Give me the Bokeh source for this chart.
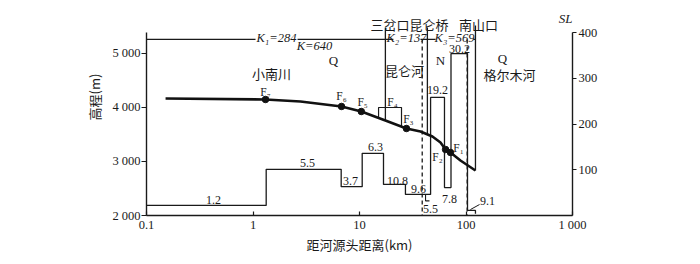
import math
from bokeh.plotting import figure
from bokeh.models import Range1d, LinearAxis, FixedTicker, Title
from bokeh.embed import file_html
from bokeh.resources import INLINE
from bokeh.core.properties import value

# ---------------- data ----------------
# longitudinal profile: distance from source (km) and elevation (m)
profile_km = [0.151, 1.31, 2.79, 6.78, 10.4, 17.5, 27.6, 37.4, 48.4, 57.6, 64.3, 71.5, 88.7, 122.7]
profile_m = [4167, 4148, 4111, 4019, 3926, 3759, 3611, 3556, 3463, 3352, 3222, 3167, 3019, 2833]

# faults on the profile
fault_names = ["F₇", "F₆", "F₅", "F₃", "F₂", "F₁"]
fault_km = [1.31, 6.78, 10.4, 27.6, 64.3, 71.5]
fault_m = [4148, 4019, 3926, 3611, 3222, 3167]

# SL index (stream-length gradient), stepwise
sl_edges_km = [0.1, 1.33, 6.73, 10.6, 16.8, 27.0, 46.5, 62.8, 72.3, 103.3, 122.7]
sl_values = [22, 101, 63, 136, 68, 46, 258, 61, 354, 11]
sl_labels = ["1.2", "5.5", "3.7", "6.3", "10.8", "9.6", "19.2", "7.8", "30.2", "9.1"]

# section boundaries (km)
sanchakou_km = 17.5
kunlunqiao_km = 43.4
nanshankou_km = 122.7
dashed_km = [38.8, 102.6]

# K (steepness) values
k_names = ["K₁=284", "K=640", "K₂=137", "K₃=569"]

x_ticks = [0.1, 1, 10, 100, 1000]
x_tick_labels = ["0.1", "1", "10", "100", "1 000"]
y_ticks = [2000, 3000, 4000, 5000]
y_tick_labels = ["2 000", "3 000", "4 000", "5 000"]
sl_ticks = [100, 200, 300, 400]

SERIF = "Liberation Serif"
CJK = "Noto Sans CJK SC"
INK = "#1a1a1a"

p = figure(width=700, height=264, x_axis_type="log",
           x_range=Range1d(0.1, 1000), y_range=Range1d(2000, 5796),
           output_backend="svg", toolbar_location=None,
           min_border_left=146, min_border_right=128,
           min_border_top=10, min_border_bottom=49)
p.extra_y_ranges = {"sl": Range1d(0, 448.1)}
p.outline_line_color = None
p.xgrid.visible = False
p.ygrid.visible = False
p.background_fill_color = "white"

# axes
xa = p.xaxis[0]
xa.ticker = FixedTicker(ticks=x_ticks)
xa.major_label_overrides = {t: l for t, l in zip(x_ticks, x_tick_labels)}
xa.minor_tick_line_color = None
xa.major_tick_in = 4
xa.major_tick_out = 0
xa.major_label_standoff = 2
xa.axis_label = "距河源头距离(km)"
xa.axis_label_standoff = 0
xa.axis_label_text_font = CJK
xa.axis_label_text_font_style = "normal"
xa.axis_label_text_font_size = "13px"
xa.axis_label_text_color = INK

ya = p.yaxis[0]
ya.ticker = FixedTicker(ticks=y_ticks)
ya.major_label_overrides = {t: l for t, l in zip(y_ticks, y_tick_labels)}
ya.minor_tick_line_color = None
ya.major_tick_in = 0
ya.major_tick_out = 5
ya.major_label_standoff = 1
ya.bounds = (2000, 5389)

ra = LinearAxis(y_range_name="sl", ticker=FixedTicker(ticks=sl_ticks), bounds=(0, 400))
ra.minor_tick_line_color = None
ra.major_tick_in = 0
ra.major_tick_out = 4
ra.major_label_standoff = 2
p.add_layout(ra, "right")

for ax in (xa, ya, ra):
    ax.axis_line_width = 1.4
    ax.axis_line_color = INK
    ax.major_tick_line_color = INK
    ax.major_tick_line_width = 1.2
    ax.major_label_text_font = SERIF
    ax.major_label_text_font_size = "12.5px"
    ax.major_label_text_color = INK

# left axis title
p.add_layout(Title(text="高程(m)", align="left", offset=95, standoff=11,
                   text_font=CJK, text_font_size="13px", text_font_style="normal",
                   text_color=INK), "left")

# SL step path
sx, sy = [], []
for i, v in enumerate(sl_values):
    sx += [sl_edges_km[i], sl_edges_km[i + 1]]
    sy += [v, v]
sx.append(sl_edges_km[-1])
sy.append(4)
p.line(sx, sy, y_range_name="sl", line_color=INK, line_width=1.3)

# small brackets near 5.5 and 9.1
p.line([41.7, 41.7, 45.4], [46, 32, 32], y_range_name="sl", line_color=INK, line_width=1.1)
p.line([110, 134], [13, 24], y_range_name="sl", line_color=INK, line_width=1.0)

# K line at top (broken where the K labels sit)
k_line_m = 5260
k_gap_starts = [0.1, 2.62, 37.4, 117.5]
k_gap_ends = [1.056, 20.8, 51.8, nanshankou_km]
p.segment(x0=k_gap_starts, y0=[k_line_m] * 4, x1=k_gap_ends, y1=[k_line_m] * 4,
          line_color=INK, line_width=1.3)

# section boundary lines
p.segment(x0=[sanchakou_km, kunlunqiao_km, nanshankou_km],
          y0=[5482, 5482, 5520],
          x1=[sanchakou_km, kunlunqiao_km, nanshankou_km],
          y1=[3759, 3490, profile_m[-1]],
          line_color=INK, line_width=1.3)
p.segment(x0=dashed_km, y0=[k_line_m, k_line_m], x1=dashed_km, y1=[2000, 2000],
          line_color=INK, line_width=1.3, line_dash="4 3")

# F4 bracket
p.line([15.1, 15.1, 24.8, 24.8], [3808, 4000, 4000, 3646], line_color=INK, line_width=1.2)

# profile
p.line(profile_km, profile_m, line_color="#111111", line_width=2.6)
p.scatter(fault_km, fault_m, size=6.5, color="#111111")

def txt(x, y, s, font=SERIF, size="12px", rng=None, style="normal", align="center"):
    kw = dict(x=[x], y=[y], text=[s], text_font=value(font), text_font_size=size,
              text_align=align, text_baseline="middle", text_color=INK,
              text_font_style=style)
    if rng:
        kw["y_range_name"] = rng
    p.text(**kw)

# fault labels
f_label_pos = [(1.31, 4296), (6.78, 4204), (10.7, 4093), (28.8, 3796), (54.0, 3074), (85.1, 3259)]
for (x, y), s in zip(f_label_pos, fault_names):
    txt(x, y, s, size="11.5px")
txt(20.4, 4093, "F₄", size="11.5px")

# SL labels
sl_label_pos = [(0.426, 33), (3.25, 114), (8.22, 76), (14.1, 149), (22.7, 76),
                (35.8, 59), (54.0, 275), (70.0, 37), (86.9, 365), (159, 31)]
for (x, y), s in zip(sl_label_pos, sl_labels):
    txt(x, y, s, size="12px", rng="sl")
txt(46.5, 15, "5.5", size="12px", rng="sl")

# K labels
k_pos = [(1.66, 5285), (3.78, 5130), (27.6, 5285), (78.0, 5285)]
for (x, y), s in zip(k_pos, k_names):
    txt(x, y, s, size="12.5px", style="italic")

# Chinese place / river names
txt(29.4, 5537, "三岔口昆仑桥", font=CJK, size="13px")
txt(130.9, 5537, "南山口", font=CJK, size="13px")
txt(1.49, 4630, "小南川", font=CJK, size="13px")
txt(26.5, 4685, "昆仑河", font=CJK, size="13px")
txt(256, 4611, "格尔木河", font=CJK, size="13px")
txt(5.70, 4871, "Q", size="13px")
txt(57.7, 4871, "N", size="13px")
txt(220, 4908, "Q", size="13px")
txt(1000, 5648, "SL", size="13px", style="italic", align="right")

open("out.html", "w").write(file_html(p, INLINE))
